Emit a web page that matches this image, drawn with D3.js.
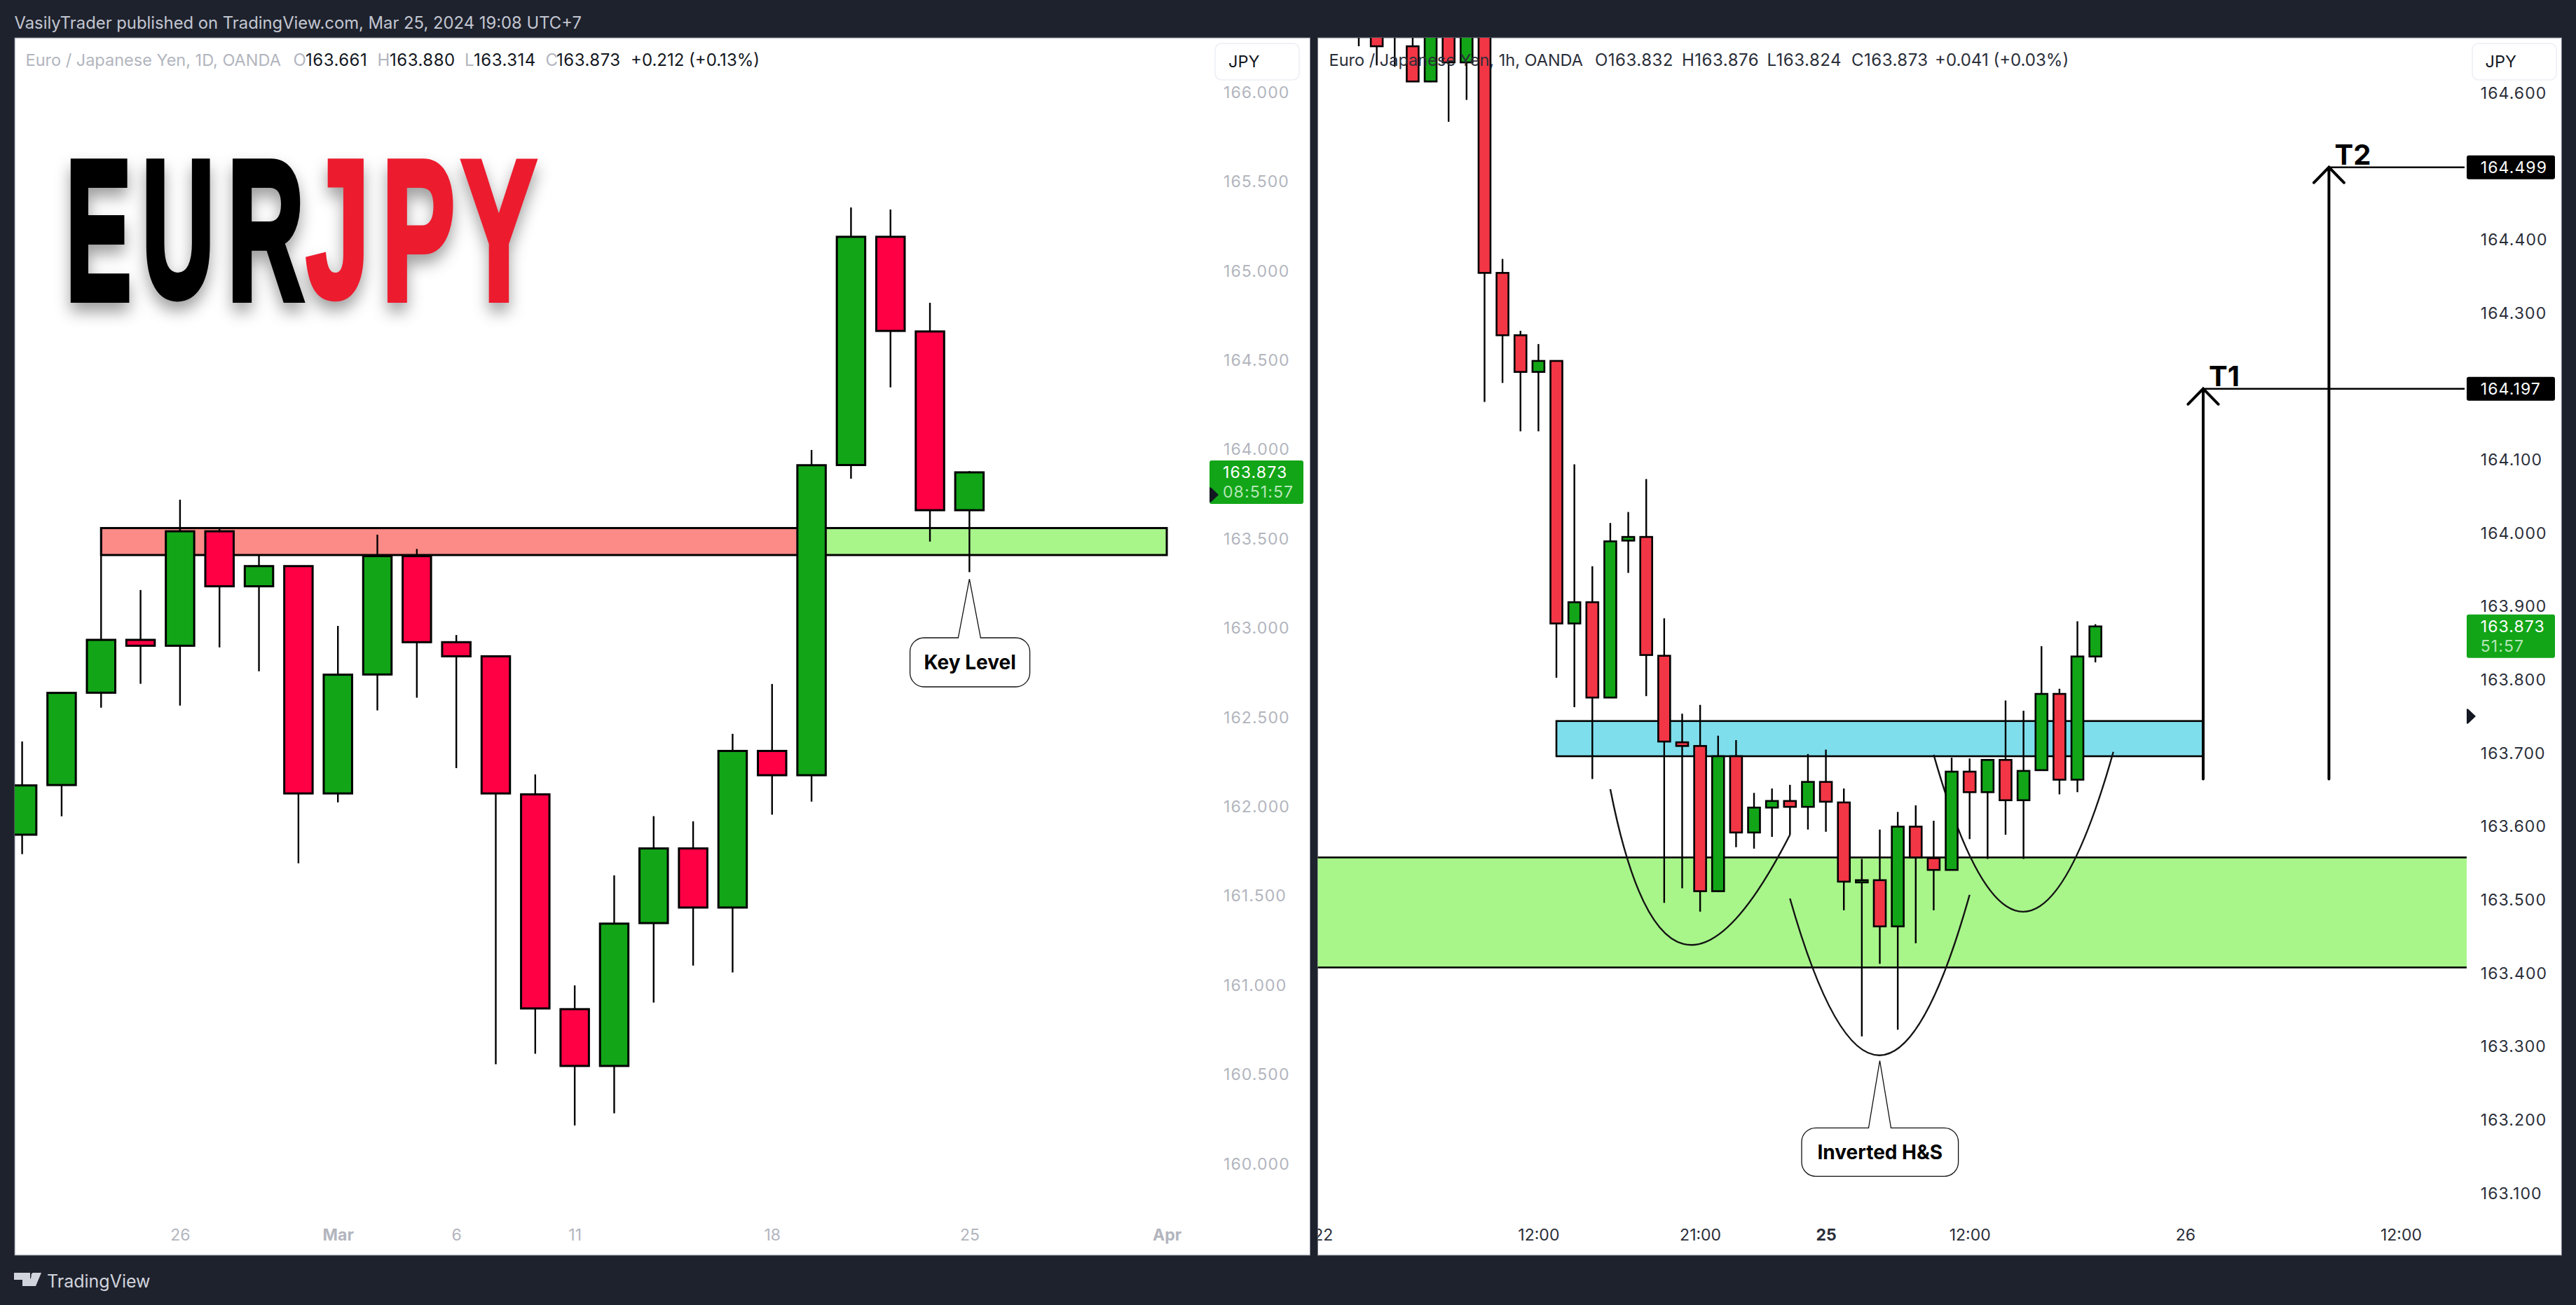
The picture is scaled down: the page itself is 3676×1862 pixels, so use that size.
<!DOCTYPE html>
<html>
<head>
<meta charset="utf-8">
<title>EURJPY</title>
<script src="https://cdn.jsdelivr.net/npm/d3@7"></script>
<style>
  html, body { margin: 0; padding: 0; background: #1e222d; }
  svg { display: block; font-family: Inter, "Noto Sans", sans-serif; }
  .logo { filter: drop-shadow(0 13px 11px rgba(0,0,0,.38)); }
  .axis path, .axis line { display: none; }
</style>
</head>
<body>
<svg id="chart" width="3676" height="1862"></svg>
<script>
// Daily candles (Feb 20 - Mar 25)
const dailyOpen = [161.844,162.122,162.639,162.935,162.902,163.543,163.235,163.348,162.075,162.741,163.404,162.922,162.843,162.070,160.867,160.549,161.349,161.767,161.436,162.313,162.177,163.914,165.192,164.662,163.661];
const dailyHigh = [162.366,162.642,163.563,163.214,163.720,163.559,163.410,163.348,163.013,163.524,163.444,162.962,162.843,162.181,161.000,161.616,161.948,161.919,162.409,162.688,163.998,165.356,165.345,164.823,163.880];
const dailyLow = [161.735,161.947,162.555,162.689,162.567,162.893,162.759,161.684,162.025,162.540,162.611,162.217,160.558,160.617,160.216,160.284,160.904,161.111,161.073,161.956,162.029,163.838,164.349,163.485,163.314];
const dailyClose = [162.120,162.638,162.935,162.902,163.543,163.235,163.348,162.075,162.740,163.404,162.922,162.843,162.075,160.871,160.549,161.346,161.767,161.436,162.313,162.177,163.913,165.192,164.665,163.661,163.873];

// Hourly candles (the first eight run off the top of the pane)
const hourlyOpen = [164.720,164.700,164.665,164.664,164.616,164.700,164.642,164.700,164.355,164.270,164.220,164.235,163.877,163.906,163.776,163.990,163.995,163.833,163.715,163.710,163.512,163.696,163.592,163.626,163.635,163.627,163.661,163.633,163.524,163.527,163.464,163.600,163.557,163.541,163.675,163.647,163.691,163.636,163.677,163.781,163.664,163.832];
const hourlyHigh = [164.760,164.720,164.700,164.700,164.720,164.720,164.720,164.720,164.374,164.276,164.258,164.235,164.094,163.955,164.014,164.029,164.074,163.884,163.754,163.766,163.724,163.718,163.646,163.652,163.657,163.699,163.705,163.652,163.556,163.596,163.620,163.629,163.608,163.694,163.693,163.691,163.772,163.758,163.846,163.788,163.880,163.876];
const hourlyLow = [164.664,164.638,164.636,164.616,164.615,164.561,164.591,164.179,164.205,164.139,164.139,163.803,163.763,163.665,163.776,163.946,163.778,163.496,163.516,163.484,163.511,163.572,163.570,163.586,163.589,163.596,163.593,163.486,163.314,163.413,163.323,163.441,163.486,163.541,163.583,163.556,163.589,163.556,163.677,163.644,163.647,163.824];
const hourlyClose = [164.690,164.664,164.665,164.616,164.700,164.642,164.700,164.355,164.270,164.220,164.235,163.877,163.906,163.776,163.989,163.995,163.834,163.716,163.710,163.512,163.696,163.592,163.626,163.635,163.627,163.661,163.634,163.525,163.527,163.464,163.600,163.558,163.541,163.675,163.647,163.691,163.636,163.676,163.781,163.664,163.832,163.873];

// Axis ticks
const dailyPriceTicks = [166,165.5,165,164.5,164,163.5,163,162.5,162,161.5,161,160.5,160];
const hourlyPriceTicks = [164.6,164.4,164.3,164.1,164,163.9,163.8,163.7,163.6,163.5,163.4,163.3,163.2,163.1];
const dailyTimeIndex = [4,8,11,14,19,24,29];
const dailyTimeLabels = ['26','Mar','6','11','18','25','Apr'];
const dailyTimeBold = ['Mar','Apr'];
const hourlyTimeIndex = [-2,10,19,26,34,46,58];
const hourlyTimeLabels = ['22','12:00','21:00','25','12:00','26','12:00'];
const hourlyTimeBold = [26];

// Zones: [from bar, to bar, top price, bottom price]
const dailyRedZone = [2,20,163.561,163.410];
const dailyGreenZone = [20,29,163.561,163.410];
const hourlyBlueZone = [11,47,163.744,163.696];
const hourlyGreenZone = [-3,63,163.558,163.408];

// Targets
const targetNames = ['T1','T2'];
const targetBars = [47,54];
const targetPrices = [164.197,164.499];
const targetBase = 163.665;
const targetEndBar = 61.55;

// Inverted head and shoulders arcs: [bar, price] for start, control and end
const shoulderLeft = [[14,163.651],[17.14,163.260],[24,163.589]];
const headArc = [[24,163.502],[29,163.072],[34,163.507]];
const shoulderRight = [[32,163.698],[37,163.268],[42,163.702]];

const svg = d3.select('#chart');
const DARK = '#1e222d';
const PANE_TOP = 54, PANE_BOTTOM = 1791;
const defs = svg.append('defs');

// Scales
const xDaily = d3.scaleLinear().domain([0, 29]).range([31.6, 1665]);
const yDaily = d3.scaleLinear().domain([160, 166]).range([1660.8, 132]);
const xHourly = d3.scaleLinear().domain([0, 58]).range([1939, 3426]);
const yHourly = d3.scaleLinear().domain([163.1, 164.6]).range([1702.7, 133]);

// Pane backgrounds and their clips
function addPane(id, x0, x1) {
  svg.append('rect')
    .attr('x', x0).attr('y', PANE_TOP)
    .attr('width', x1 - x0).attr('height', PANE_BOTTOM - PANE_TOP)
    .attr('fill', '#fff').attr('stroke', '#7d818d').attr('stroke-width', 1);
  defs.append('clipPath').attr('id', id).append('rect')
    .attr('x', x0).attr('y', PANE_TOP)
    .attr('width', x1 - x0).attr('height', PANE_BOTTOM - PANE_TOP);
  return svg.append('g').attr('clip-path', `url(#${id})`);
}

const leftPane = addPane('clip-left', 21, 1869.5);
const rightPane = addPane('clip-right', 1880.5, 3655.5);

// Right pane drawings stop where the price scale starts
defs.append('clipPath').attr('id', 'clip-right-plot').append('rect')
  .attr('x', 1880.5).attr('y', PANE_TOP)
  .attr('width', 3520 - 1880.5).attr('height', PANE_BOTTOM - PANE_TOP);
const rightPlot = rightPane.append('g').attr('clip-path', 'url(#clip-right-plot)');

// Draw a zone rectangle from one of the zone arrays
function drawZone(g, zone, x, y, fill, sw) {
  g.append('rect')
    .attr('x', x(zone[0])).attr('y', y(zone[2]))
    .attr('width', x(zone[1]) - x(zone[0]))
    .attr('height', y(zone[3]) - y(zone[2]))
    .attr('fill', fill).attr('stroke', '#000').attr('stroke-width', sw);
}

// Draw candles from the four price arrays
function drawCandles(g, o, h, l, c, x, y, bodyWidth, sw, wickWidth, up, down) {
  const bars = g.append('g');
  const idx = d3.range(o.length);
  bars.selectAll('.wick').data(idx).enter().append('line')
    .attr('class', 'wick')
    .attr('x1', i => x(i)).attr('x2', i => x(i))
    .attr('y1', i => y(h[i])).attr('y2', i => y(l[i]))
    .attr('stroke', '#000').attr('stroke-width', wickWidth);
  bars.selectAll('.body').data(idx).enter().append('rect')
    .attr('class', 'body')
    .attr('x', i => x(i) - bodyWidth / 2)
    .attr('y', i => y(Math.max(o[i], c[i])))
    .attr('width', bodyWidth)
    .attr('height', i => Math.abs(y(o[i]) - y(c[i])))
    .attr('fill', i => (c[i] >= o[i] ? up : down))
    .attr('stroke', '#000').attr('stroke-width', sw);
}

// Arc through a quadratic control point
function drawArc(g, pts) {
  const p = d3.path();
  p.moveTo(xHourly(pts[0][0]), yHourly(pts[0][1]));
  p.quadraticCurveTo(xHourly(pts[1][0]), yHourly(pts[1][1]), xHourly(pts[2][0]), yHourly(pts[2][1]));
  g.append('path').attr('d', p.toString())
    .attr('fill', 'none').attr('stroke', '#131313').attr('stroke-width', 2.4);
}

// Rounded label with a thin pointer up to the tip
function drawCallout(g, tipX, tipY, box, label) {
  const r = 20, stem = 16;
  const p = d3.path();
  p.moveTo(box.left + r, box.top);
  p.lineTo(tipX - stem, box.top);
  p.lineTo(tipX, tipY);
  p.lineTo(tipX + stem, box.top);
  p.lineTo(box.right - r, box.top);
  p.arcTo(box.right, box.top, box.right, box.top + r, r);
  p.lineTo(box.right, box.bottom - r);
  p.arcTo(box.right, box.bottom, box.right - r, box.bottom, r);
  p.lineTo(box.left + r, box.bottom);
  p.arcTo(box.left, box.bottom, box.left, box.bottom - r, r);
  p.lineTo(box.left, box.top + r);
  p.arcTo(box.left, box.top, box.left + r, box.top, r);
  p.closePath();
  g.append('path').attr('d', p.toString())
    .attr('fill', '#fff').attr('stroke', '#111').attr('stroke-width', 1.3);
  g.append('text')
    .attr('x', (box.left + box.right) / 2).attr('y', (box.top + box.bottom) / 2 + 10)
    .attr('text-anchor', 'middle')
    .attr('font-size', 28).attr('font-weight', 700).attr('fill', '#000')
    .text(label);
}

// Price axis: plain labels starting at the given x
function drawPriceAxis(x, y, ticks, color) {
  const g = svg.append('g')
    .attr('class', 'axis')
    .attr('transform', `translate(${x},0)`)
    .call(d3.axisRight(y).tickValues(ticks).tickFormat(d3.format('.3f')).tickSize(0).tickPadding(0));
  g.selectAll('text')
    .attr('font-family', 'Inter').attr('font-size', 23).attr('letter-spacing', 1.1)
    .attr('fill', color).attr('text-anchor', 'start');
}

// Time axis along the bottom of a pane
function drawTimeAxis(g, x, index, labels, color, isBold) {
  const axis = g.append('g')
    .attr('class', 'axis')
    .attr('transform', 'translate(0,1754)')
    .call(d3.axisBottom(x).tickValues(index).tickFormat((d, i) => labels[i]).tickSize(0).tickPadding(0));
  axis.selectAll('text')
    .attr('font-family', 'Inter').attr('font-size', 23).attr('fill', color)
    .attr('font-weight', (d, i) => (isBold(d, labels[i]) ? 700 : 400));
}

// Legend line: [text, x, colour]
function drawLegend(items) {
  const plain = d => /OANDA|\(/.test(d[0]);
  svg.append('g').selectAll('text').data(items).enter().append('text')
    .attr('x', d => d[1]).attr('y', 94)
    .attr('font-size', d => (/OANDA/.test(d[0]) ? 23.5 : 24))
    .attr('letter-spacing', d => (plain(d) ? 0 : 0.5))
    .attr('fill', d => d[2])
    .text(d => d[0]);
}

// Currency button in the corner of a price scale
function drawCurrency(x, textX) {
  svg.append('rect').attr('x', x).attr('y', 62).attr('width', 120).attr('height', 52)
    .attr('rx', 9).attr('fill', '#fff').attr('stroke', '#eceef3').attr('stroke-width', 1.5);
  svg.append('text').attr('x', textX).attr('y', 96)
    .attr('font-size', 23.5).attr('fill', '#131722').text('JPY');
}

// Last price tag with countdown and the small marker at its left
function drawPriceTag(left, right, y, price, countdown, textX) {
  svg.append('rect').attr('x', left).attr('y', y - 17)
    .attr('width', right - left).attr('height', 62).attr('rx', 3).attr('fill', '#12a518');
  svg.append('text').attr('x', textX).attr('y', y + 8.5)
    .attr('font-size', 23).attr('letter-spacing', 1.1).attr('fill', '#fff').text(d3.format('.3f')(price));
  svg.append('text').attr('x', textX).attr('y', y + 36.5)
    .attr('font-size', 23).attr('letter-spacing', 1.1).attr('fill', '#b5e6b7').text(countdown);
}

function drawMarker(x, yMid) {
  svg.append('path')
    .attr('d', `M${x},${yMid - 10.5}L${x + 2},${yMid - 10.5}L${x + 13},${yMid}L${x + 2},${yMid + 10.5}L${x},${yMid + 10.5}Z`)
    .attr('fill', '#131722');
}

// LEFT PANE
drawZone(leftPane, dailyRedZone, xDaily, yDaily, '#fc8a87', 3);
drawZone(leftPane, dailyGreenZone, xDaily, yDaily, '#a8f58a', 3);
drawCandles(leftPane, dailyOpen, dailyHigh, dailyLow, dailyClose, xDaily, yDaily, 40.5, 3, 2.4, '#12a518', '#ff0045');
drawCallout(leftPane, xDaily(24), yDaily(163.276), { left: 1298.6, right: 1469.6, top: 910, bottom: 980 }, 'Key Level');
drawTimeAxis(svg, xDaily, dailyTimeIndex, dailyTimeLabels, '#b2b5be', (d, label) => dailyTimeBold.includes(label));
drawPriceAxis(1746, yDaily, dailyPriceTicks, '#b2b5be');
drawCurrency(1734, 1753);
drawPriceTag(1726, 1860, yDaily(dailyClose[24]), dailyClose[24], '08:51:57', 1745);
drawMarker(1726, 706);

drawLegend([
  ['Euro / Japanese Yen, 1D, OANDA', 36.5, '#b2b5be'],
  ['O', 418.5, '#b2b5be'], [d3.format('.3f')(dailyOpen[24]), 436, '#131722'],
  ['H', 538.5, '#b2b5be'], [d3.format('.3f')(dailyHigh[24]), 556, '#131722'],
  ['L', 663, '#b2b5be'], [d3.format('.3f')(dailyLow[24]), 676, '#131722'],
  ['C', 778.4, '#b2b5be'], [d3.format('.3f')(dailyClose[24]), 794, '#131722'],
  ['+0.212 (+0.13%)', 900, '#131722']
]);

// EURJPY wordmark: each letter is stretched so its ink fills its own box
const logoLetters = ['E','U','R','J','P','Y'];
const logoLeft = [98.7,205.5,330,433,551,657];
const logoRight = [187.7,302.5,435,522,649,767.5];
const logoColors = ['#000','#000','#000','#ec1c2e','#ec1c2e','#ec1c2e'];
const LOGO_TOP = 223, LOGO_BOTTOM = 431, LOGO_STROKE = 8;
const ctx = document.createElement('canvas').getContext('2d');
ctx.font = 'bold 280px "Liberation Sans"';
const logo = svg.append('g').attr('class', 'logo');
logoLetters.forEach((ch, i) => {
  const m = ctx.measureText(ch);
  const inkW = m.actualBoundingBoxLeft + m.actualBoundingBoxRight;
  const inkH = m.actualBoundingBoxAscent + m.actualBoundingBoxDescent;
  const sx = (logoRight[i] - logoLeft[i] - LOGO_STROKE) / inkW;
  const sy = (LOGO_BOTTOM - LOGO_TOP - LOGO_STROKE) / inkH;
  const tx = logoLeft[i] + LOGO_STROKE / 2 + m.actualBoundingBoxLeft * sx;
  const ty = LOGO_BOTTOM - LOGO_STROKE / 2 - m.actualBoundingBoxDescent * sy;
  logo.append('text')
    .attr('transform', `translate(${tx},${ty}) scale(${sx},${sy})`)
    .attr('font-family', '"Liberation Sans"').attr('font-size', 280).attr('font-weight', 700)
    .attr('fill', logoColors[i]).attr('stroke', logoColors[i])
    .attr('stroke-width', LOGO_STROKE).attr('stroke-linejoin', 'miter')
    .style('vector-effect', 'non-scaling-stroke')
    .text(ch);
});

// RIGHT PANE
drawZone(rightPlot, hourlyGreenZone, xHourly, yHourly, '#a8f58a', 2.6);
drawZone(rightPlot, hourlyBlueZone, xHourly, yHourly, '#7fdeec', 2.6);
[shoulderLeft, headArc, shoulderRight].forEach(pts => drawArc(rightPlot, pts));
drawCandles(rightPlot, hourlyOpen, hourlyHigh, hourlyLow, hourlyClose, xHourly, yHourly, 17, 2.6, 2.4, '#12a518', '#f23645');
drawCallout(rightPlot, xHourly(29), yHourly(163.281), { left: 2571, right: 2794.6, top: 1609.3, bottom: 1678.3 }, 'Inverted H&S');

// Target arrows and their horizontal lines
targetNames.forEach((name, i) => {
  const x = xHourly(targetBars[i]), y = yHourly(targetPrices[i]);
  rightPlot.append('line')
    .attr('x1', x).attr('x2', xHourly(targetEndBar)).attr('y1', y).attr('y2', y)
    .attr('stroke', '#000').attr('stroke-width', 2.4);
  const p = d3.path();
  p.moveTo(x, yHourly(targetBase));
  p.lineTo(x, y);
  p.moveTo(x - 21.5, y + 22);
  p.lineTo(x, y);
  p.lineTo(x + 21.5, y + 22);
  rightPlot.append('path').attr('d', p.toString())
    .attr('fill', 'none').attr('stroke', '#000').attr('stroke-width', 4).attr('stroke-linecap', 'round');
  rightPlot.append('text')
    .attr('x', x + 8).attr('y', y - 4)
    .attr('font-size', 40).attr('font-weight', 700).attr('fill', '#000')
    .text(name);
});

const timeClip = svg.append('g').attr('clip-path', 'url(#clip-right)');
drawTimeAxis(timeClip, xHourly, hourlyTimeIndex, hourlyTimeLabels, '#2a2e39', d => hourlyTimeBold.includes(d));
drawPriceAxis(3539.7, yHourly, hourlyPriceTicks, '#2a2e39');
drawCurrency(3528, 3546.6);

// Black target tags on the scale
targetPrices.forEach(price => {
  const y = yHourly(price);
  svg.append('rect').attr('x', 3520).attr('y', y - 17).attr('width', 126).attr('height', 34).attr('rx', 3).attr('fill', '#000');
  svg.append('text').attr('x', 3539.7).attr('y', y + 8.5)
    .attr('font-size', 23).attr('letter-spacing', 1.1).attr('fill', '#fff').text(d3.format('.3f')(price));
});
drawPriceTag(3520, 3646, yHourly(hourlyClose[41]), hourlyClose[41], '51:57', 3539.7);
drawMarker(3520, 1022);

drawLegend([
  ['Euro / Japanese Yen, 1h, OANDA', 1896.6, '#2a2e39'],
  ['O' + d3.format('.3f')(hourlyOpen[41]), 2276, '#2a2e39'],
  ['H' + d3.format('.3f')(hourlyHigh[41]), 2400, '#2a2e39'],
  ['L' + d3.format('.3f')(hourlyLow[41]), 2521.6, '#2a2e39'],
  ['C' + d3.format('.3f')(hourlyClose[41]), 2642, '#2a2e39'],
  ['+0.041 (+0.03%)', 2761, '#2a2e39']
]);

// Header and footer strips
svg.append('text').attr('x', 20.5).attr('y', 41)
  .attr('font-size', 23.8).attr('fill', '#c3c6d1')
  .text('VasilyTrader published on TradingView.com, Mar 25, 2024 19:08 UTC+7');

const footer = svg.append('g').attr('fill', '#d1d4dc');
footer.append('path').attr('d', 'M20,1816H43V1835H32V1826H20Z');
footer.append('circle').attr('cx', 48.5).attr('cy', 1820).attr('r', 4);
footer.append('path').attr('d', 'M59,1816L51,1835H39L47,1816Z');
footer.append('text').attr('x', 67).attr('y', 1837).attr('font-size', 25).attr('fill', '#d1d4dc').text('TradingView');
</script>
</body>
</html>
